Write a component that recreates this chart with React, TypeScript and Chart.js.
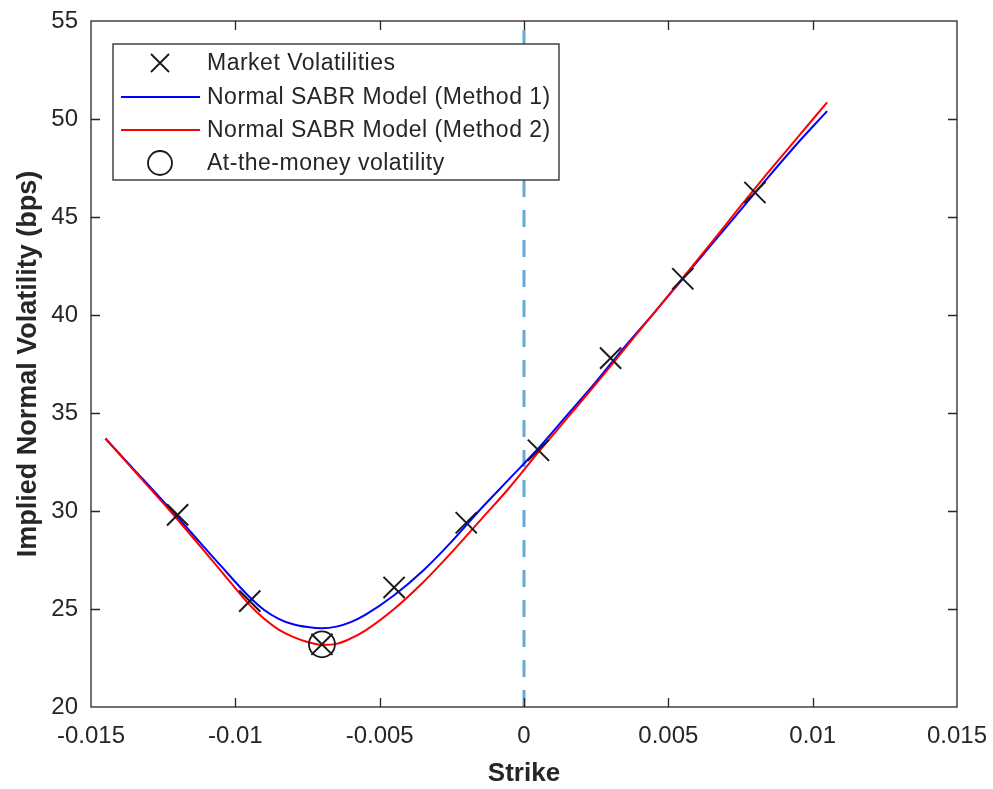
import { useEffect, useRef } from "react";
import { Chart, registerables } from "chart.js";

Chart.register(...registerables);

// ---- data ----
const marketStrikes = [-0.012, -0.0095, -0.007, -0.0045, -0.002, 0.0005, 0.003, 0.0055, 0.008];
const marketVols = [29.8, 25.4, 23.2, 26.1, 29.4, 33.1, 37.8, 41.85, 46.25];

const atmStrikes = [-0.007];
const atmVols = [23.2];

const curveStrikes = [
  -0.0145, -0.0135, -0.0125, -0.0115, -0.0105, -0.0095, -0.009, -0.0085, -0.008, -0.0075,
  -0.007, -0.0065, -0.006, -0.0055, -0.0045, -0.0035, -0.0025, -0.0015, -0.0005, 0.0005,
  0.0015, 0.0025, 0.0035, 0.0045, 0.0055, 0.0065, 0.0075, 0.0085, 0.0095, 0.0105,
];
const method1Vols = [
  33.7, 32.1, 30.5, 28.85, 27.2, 25.6, 24.95, 24.5, 24.22, 24.08,
  24.02, 24.1, 24.33, 24.7, 25.7, 26.95, 28.45, 30.1, 31.65, 33.2,
  34.9, 36.6, 38.4, 40.1, 41.85, 43.6, 45.35, 47.1, 48.8, 50.4,
];
const method2Vols = [
  33.7, 32.05, 30.4, 28.7, 26.95, 25.2, 24.5, 23.95, 23.58, 23.32,
  23.17, 23.22, 23.5, 23.9, 25.0, 26.35, 27.9, 29.55, 31.2, 33.0,
  34.75, 36.5, 38.3, 40.1, 41.9, 43.7, 45.55, 47.35, 49.1, 50.85,
];

const zeroLineStrikes = [0, 0];
const zeroLineVols = [20, 55];

const xTickValues = [-0.015, -0.01, -0.005, 0, 0.005, 0.01, 0.015];
const xTickLabels = ["-0.015", "-0.01", "-0.005", "0", "0.005", "0.01", "0.015"];
const yTickValues = [20, 25, 30, 35, 40, 45, 50, 55];
const yTickLabels = ["20", "25", "30", "35", "40", "45", "50", "55"];

const legendLabels = [
  "Market Volatilities",
  "Normal SABR Model (Method 1)",
  "Normal SABR Model (Method 2)",
  "At-the-money volatility",
];

const xTitle = "Strike";
const yTitle = "Implied Normal Volatility (bps)";

// ---- styles ----
const FONT = "'Liberation Sans', Arial, Helvetica, sans-serif";
const AXIS = "#262626";
const BLUE = "#0000ff";
const RED = "#ff0000";
const MARK = "#1a1a1a";
const ZERO = "rgba(0,114,189,0.6)";

const pts = (xs: number[], ys: number[]) => xs.map((x, i) => ({ x, y: ys[i] }));

const decorPlugin = {
  id: "matlabDecor",
  afterDraw(chart: any) {
    const { ctx, chartArea: a, scales } = chart;
    const xs = scales.x;
    const ys = scales.y;
    const tickLen = 9;
    ctx.save();
    ctx.strokeStyle = AXIS;
    ctx.lineWidth = 1.3;
    ctx.setLineDash([]);
    ctx.beginPath();
    xTickValues.forEach((v) => {
      const px = Math.round(xs.getPixelForValue(v)) + 0.5;
      if (px <= a.left + 2 || px >= a.right - 2) return;
      ctx.moveTo(px, a.bottom);
      ctx.lineTo(px, a.bottom - tickLen);
      ctx.moveTo(px, a.top);
      ctx.lineTo(px, a.top + tickLen);
    });
    yTickValues.forEach((v) => {
      const py = Math.round(ys.getPixelForValue(v)) + 0.5;
      if (py <= a.top + 2 || py >= a.bottom - 2) return;
      ctx.moveTo(a.left, py);
      ctx.lineTo(a.left + tickLen, py);
      ctx.moveTo(a.right, py);
      ctx.lineTo(a.right - tickLen, py);
    });
    ctx.stroke();
    ctx.strokeRect(a.left, a.top, a.right - a.left, a.bottom - a.top);

    // legend box
    const bx = a.left + 22;
    const by = a.top + 23;
    const bw = 446;
    const bh = 136;
    ctx.fillStyle = "#ffffff";
    ctx.fillRect(bx, by, bw, bh);
    ctx.strokeStyle = AXIS;
    ctx.lineWidth = 1.3;
    ctx.strokeRect(bx, by, bw, bh);

    const rows = [19, 53, 86, 119];
    const symX = bx + 47;
    // row 1: x marker
    ctx.strokeStyle = MARK;
    ctx.lineWidth = 1.8;
    ctx.beginPath();
    const r1 = by + rows[0];
    const h = 9;
    ctx.moveTo(symX - h, r1 - h);
    ctx.lineTo(symX + h, r1 + h);
    ctx.moveTo(symX - h, r1 + h);
    ctx.lineTo(symX + h, r1 - h);
    ctx.stroke();
    // rows 2,3: lines
    ctx.lineWidth = 2;
    ctx.strokeStyle = BLUE;
    ctx.beginPath();
    ctx.moveTo(bx + 8, by + rows[1]);
    ctx.lineTo(bx + 87, by + rows[1]);
    ctx.stroke();
    ctx.strokeStyle = RED;
    ctx.beginPath();
    ctx.moveTo(bx + 8, by + rows[2]);
    ctx.lineTo(bx + 87, by + rows[2]);
    ctx.stroke();
    // row 4: circle
    ctx.strokeStyle = MARK;
    ctx.lineWidth = 1.8;
    ctx.beginPath();
    ctx.arc(symX, by + rows[3], 12, 0, Math.PI * 2);
    ctx.stroke();

    ctx.fillStyle = AXIS;
    ctx.font = `23px ${FONT}`;
    try {
      (ctx as any).letterSpacing = "0.5px";
    } catch (e) {}
    ctx.textAlign = "left";
    ctx.textBaseline = "middle";
    legendLabels.forEach((t, i) => ctx.fillText(t, bx + 94, by + rows[i] + 1));
    ctx.restore();
  },
};

export default function App() {
  const ref = useRef<HTMLCanvasElement | null>(null);

  useEffect(() => {
    if (!ref.current) return;
    const chart = new Chart(ref.current, {
      type: "scatter",
      data: {
        datasets: [
          {
            label: legendLabels[0],
            data: pts(marketStrikes, marketVols),
            showLine: false,
            pointStyle: "crossRot",
            pointRadius: 15,
            pointHoverRadius: 15,
            borderColor: MARK,
            backgroundColor: MARK,
            pointBorderWidth: 2,
            borderWidth: 2,
          },
          {
            label: legendLabels[3],
            data: pts(atmStrikes, atmVols),
            showLine: false,
            pointStyle: "circle",
            pointRadius: 13,
            pointHoverRadius: 13,
            borderColor: MARK,
            backgroundColor: "rgba(0,0,0,0)",
            pointBorderWidth: 1.8,
            borderWidth: 1.8,
          },
          {
            label: legendLabels[2],
            data: pts(curveStrikes, method2Vols),
            showLine: true,
            pointRadius: 0,
            borderColor: RED,
            borderWidth: 2,
            cubicInterpolationMode: "monotone",
          },
          {
            label: legendLabels[1],
            data: pts(curveStrikes, method1Vols),
            showLine: true,
            pointRadius: 0,
            borderColor: BLUE,
            borderWidth: 2,
            cubicInterpolationMode: "monotone",
          },
          {
            label: "zero",
            data: pts(zeroLineStrikes, zeroLineVols),
            showLine: true,
            pointRadius: 0,
            borderColor: ZERO,
            borderWidth: 3,
            borderDash: [17, 13],
          },
        ],
      } as any,
      options: {
        animation: false,
        responsive: false,
        maintainAspectRatio: false,
        events: [],
        layout: { padding: { left: 0, right: 36, top: 21, bottom: 0 } },
        plugins: {
          legend: { display: false },
          tooltip: { enabled: false },
        },
        scales: {
          x: {
            type: "linear",
            min: -0.015,
            max: 0.015,
            grid: { display: false, drawTicks: false },
            border: { display: false },
            afterBuildTicks: (s: any) => {
              s.ticks = xTickValues.map((v) => ({ value: v }));
            },
            afterFit: (s: any) => {
              s.height = 82;
              s.paddingLeft = 0;
              s.paddingRight = 0;
            },
            ticks: {
              autoSkip: false,
              maxRotation: 0,
              minRotation: 0,
              padding: 15,
              color: AXIS,
              font: { family: FONT, size: 24 },
              callback: (_v: any, i: number) => xTickLabels[i],
            },
            title: {
              display: true,
              text: xTitle,
              color: AXIS,
              font: { family: FONT, size: 26, weight: "bold", lineHeight: 1 },
              padding: { top: 0, bottom: 2 },
            },
          },
          y: {
            type: "linear",
            min: 20,
            max: 55,
            grid: { display: false, drawTicks: false },
            border: { display: false },
            afterBuildTicks: (s: any) => {
              s.ticks = yTickValues.map((v) => ({ value: v }));
            },
            afterFit: (s: any) => {
              s.width = 91;
              s.paddingTop = 0;
              s.paddingBottom = 0;
            },
            ticks: {
              autoSkip: false,
              padding: 13,
              color: AXIS,
              font: { family: FONT, size: 24 },
              callback: (_v: any, i: number) => yTickLabels[i],
            },
            title: {
              display: true,
              text: yTitle,
              color: AXIS,
              font: { family: FONT, size: 27, weight: "bold", lineHeight: 1 },
              padding: { top: 15, bottom: 0 },
            },
          },
        },
      } as any,
      plugins: [decorPlugin],
    });
    return () => chart.destroy();
  }, []);

  return (
    <div style={{ position: "fixed", left: 0, top: 0, width: 993, height: 789, background: "#fff" }}>
      <canvas ref={ref} width={993} height={789} style={{ width: 993, height: 789, display: "block" }} />
    </div>
  );
}
